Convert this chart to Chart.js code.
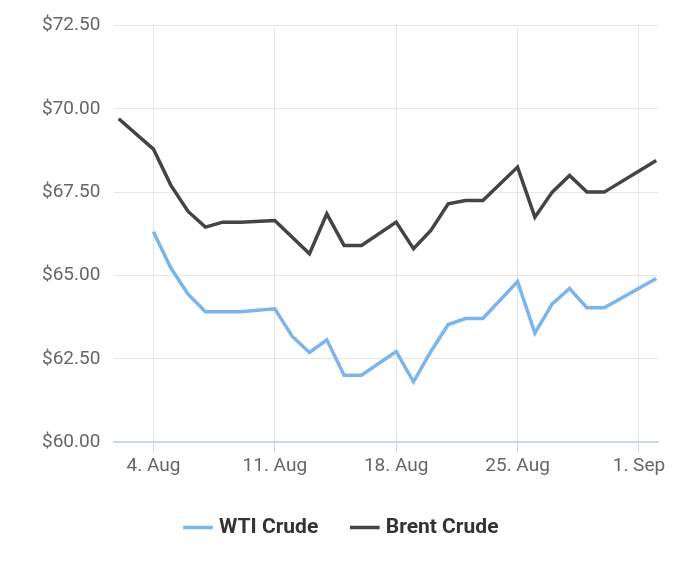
<!DOCTYPE html><html><head><script src="https://cdn.jsdelivr.net/npm/chart.js@4/dist/chart.umd.min.js"></script>
<style>body{margin:0;background:#fff}#w{width:700px;height:570px}</style></head><body><div id="w"><canvas id="c"></canvas></div>
<script>
const days=[2,4,5,6,7,8,9,11,12,13,14,15,16,18,19,20,21,22,23,25,26,27,28,29,30,33];
const wti=[null,66.31,65.23,64.44,63.91,63.91,63.91,64.0,63.18,62.69,63.07,62.01,62.01,62.72,61.81,62.72,63.53,63.71,63.71,64.82,63.27,64.15,64.61,64.03,64.03,64.91];
const brent=[69.70,68.79,67.71,66.92,66.45,66.6,66.6,66.65,null,65.65,66.85,65.9,65.9,66.6,65.8,66.35,67.15,67.25,67.25,68.25,66.75,67.5,68.0,67.5,67.5,68.45];
const tickDays=[4,11,18,25,32];
const tickLabels=['4. Aug','11. Aug','18. Aug','25. Aug','1. Sep'];
const pts=a=>days.map((d,i)=>({x:d,y:a[i]}));
new Chart(document.getElementById('c'),{type:'line',data:{datasets:[
{label:'WTI Crude',data:pts(wti),borderColor:'#7cb5ec',backgroundColor:'#7cb5ec',borderWidth:3.5,pointRadius:0,tension:0,spanGaps:true},
{label:'Brent Crude',data:pts(brent),borderColor:'#434348',backgroundColor:'#434348',borderWidth:3.5,pointRadius:0,tension:0,spanGaps:true}]},
options:{responsive:true,maintainAspectRatio:false,animation:false,
layout:{padding:{top:16,right:42,left:28,bottom:22}},
plugins:{legend:{position:'bottom',labels:{usePointStyle:true,pointStyle:'line',boxWidth:40,padding:36,color:'#333',font:{family:'Roboto',size:21,weight:'bold'}}},tooltip:{enabled:false}},
scales:{x:{type:'linear',min:1.75,max:33.1,afterBuildTicks:s=>{s.ticks=tickDays.map(v=>({value:v}));},
ticks:{callback:v=>tickLabels[tickDays.indexOf(v)],color:'#666',font:{family:'Roboto',size:19},maxRotation:0,autoSkip:false},
grid:{color:'#e6e6e6',drawTicks:true,tickColor:'#ccd6eb',tickLength:10},border:{color:'#ccd6eb',width:2}},
y:{min:60,max:72.5,ticks:{stepSize:2.5,callback:v=>'$'+v.toFixed(2),color:'#666',font:{family:'Roboto',size:19},padding:14},
grid:{color:'#e6e6e6',drawTicks:false},border:{display:false}}}}});
</script></body></html>
